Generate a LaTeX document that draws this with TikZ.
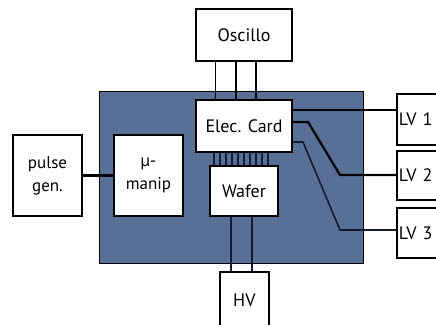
\documentclass[tikz,border=0pt]{standalone}
\usepackage{fontspec}
\setmainfont{PT Sans}
\definecolor{panel}{RGB}{88,112,150}
\definecolor{navy}{RGB}{20,28,52}
\begin{document}
\begin{tikzpicture}[x=1pt,y=-1pt,
  box/.style={draw=black,fill=white,line width=1.8pt,inner sep=0pt,font=\fontsize{18}{18}\selectfont,align=center},
  wire/.style={line width=1.8pt,draw=black},
  thinwire/.style={line width=1.2pt,draw=navy}]
\useasboundingbox (0,0) rectangle (436,324);
% panel
\node[draw=black,fill=panel,line width=1.2pt,minimum width=264pt,minimum height=172pt,inner sep=0pt,anchor=north west] (panel) at (99,91) {};
% boxes
\node[box,line width=1.3pt,minimum width=96pt,minimum height=52pt] (osc) at (244,35) {Oscillo};
\node[box,line width=2.2pt,minimum width=69pt,minimum height=81pt,font=\fontsize{17}{23}\selectfont] (pulse) at (47.5,175.5) {pulse\\gen.};
\node[box,line width=2.2pt,minimum width=69pt,minimum height=81pt,font=\fontsize{17}{23}\selectfont] (manip) at (148.5,175.5) {µ-\\manip};
\node[box,minimum width=96pt,minimum height=52pt] (card) at (244,126) {Elec. Card};
\node[box,minimum width=68pt,minimum height=50pt] (wafer) at (244,191) {Wafer};
\node[box,minimum width=49pt,minimum height=56pt,anchor=north west] (hv) at (219,271) {HV};
\node[box,minimum width=80pt,minimum height=51pt,anchor=north west,text width=76pt,align=left] (lv1) at (396,93) {LV 1};
\node[box,minimum width=80pt,minimum height=49pt,anchor=north west,text width=76pt,align=left] (lv2) at (396,150) {LV 2};
\node[box,minimum width=80pt,minimum height=50pt,anchor=north west,text width=76pt,align=left] (lv3) at (396,207) {LV 3};
% oscillo to card
\draw[line width=1.0pt] (osc.south -| 215,0) -- (card.north -| 215,0);
\draw[line width=2.6pt] (osc.south -| 236,0) -- (card.north -| 236,0);
\draw[line width=2.0pt] (osc.south -| 256,0) -- (card.north -| 256,0);
% pulse to manip
\draw[wire,line width=2.4pt] (pulse.east) -- (manip.west);
% comb
\foreach \x in {214,220,...,268}
  \draw[navy,line width=2.2pt] (card.south -| \x,0) -- (wafer.north -| \x,0);
% card to LVs
\coordinate (b2) at (308,122);
\coordinate (c2) at (340,175);
\coordinate (b3) at (303,142);
\coordinate (c3) at (340,230);
\draw[wire,line width=2.2pt] (card.east |- 0,110) -- (lv1.west |- 0,110);
\draw[wire,line width=2.2pt] (card.east |- b2) -- (b2) -- (c2) -- (lv2.west |- c2);
\draw[line width=1.6pt,draw=navy] (card.east |- b3) -- (b3) -- (c3) -- (lv3.west |- c3);
% wafer to HV
\draw[thinwire] (wafer.south -| 231,0) -- (hv.north -| 231,0);
\draw[thinwire] (wafer.south -| 252,0) -- (hv.north -| 252,0);
\end{tikzpicture}
\end{document}
